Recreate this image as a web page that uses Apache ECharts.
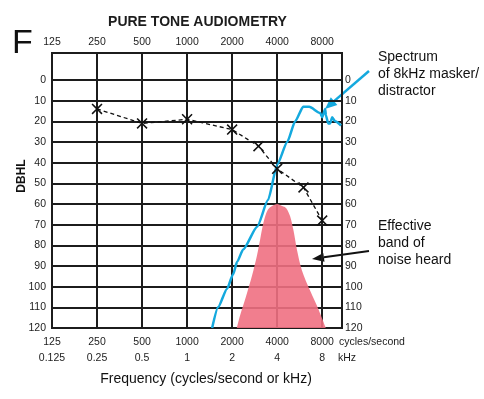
<!DOCTYPE html>
<html>
<head>
    <meta charset="utf-8">
    <title>Pure Tone Audiometry</title>
    <script src="https://cdn.jsdelivr.net/npm/echarts@6/dist/echarts.min.js"></script>
    <style type="text/css">
        body{
            margin: 0;
            background: #fff;
        }
        #main{
            width: 484px;
            height: 399px;
        }
    </style>
</head>
<body>
<div id="main"></div>
<script>
    // audiogram octave ticks (Hz) and kHz labels
    var freqTicks = [125, 250, 500, 1000, 2000, 4000, 8000];
    var khzTicks = ["0.125", "0.25", "0.5", "1", "2", "4", "8"];

    // hearing thresholds (X markers, dashed)
    var threshFreq = [250, 500, 1000, 2000, 3000, 4000, 6000, 8000];
    var threshDb = [14, 21, 19, 24, 32, 43, 52, 68];

    // spectrum of the 8 kHz masker (blue)
    var maskFreq = [1470, 1610, 1850, 2030, 2160, 2370, 2940, 3480, 4000, 4670, 5280, 5970, 6550, 7760, 8000, 8380, 8470, 8770, 9050, 9330, 9770, 10700];
    var maskDb = [120, 110, 101, 94, 88, 82, 71, 58, 41, 30, 20, 13, 13, 16, 18, 14, 17, 21, 21, 18, 20, 22];

    // effective band of noise heard (pink)
    var bandFreq = [2150, 2260, 2470, 2710, 2930, 3080, 3240, 3450, 3700, 4000, 4320, 4600, 4890, 5150, 5420, 5850, 6650, 7560, 8470];
    var bandDb = [120, 114, 105, 95, 85, 77, 69, 63, 61, 60, 61, 62, 66, 73, 82, 92, 102, 111, 120];

    var FONT = "Liberation Sans, Arial, sans-serif";
    var INK = "#1c1c1c";
    var XMAX = 6.44; // octaves above 125 Hz shown in the frame

    function oct(f) {
        return Math.log2(f / 125);
    }
    function pairs(fs, ds) {
        return fs.map(function (f, i) { return [oct(f), ds[i]]; });
    }
    function isTick(v) {
        return Math.abs(v - Math.round(v)) < 1e-6 && v >= 0 && v <= 6;
    }

    function arrow(x1, y1, x2, y2, color, w, len, half) {
        var a = Math.atan2(y2 - y1, x2 - x1);
        var c = Math.cos(a), s = Math.sin(a);
        var bx = x2 - len * c, by = y2 - len * s;
        return [
            {type: 'line', shape: {x1: x1, y1: y1, x2: bx, y2: by}, style: {stroke: color, lineWidth: w}},
            {type: 'polygon', shape: {points: [[x2, y2], [bx + half * s, by - half * c], [bx - half * s, by + half * c]]}, style: {fill: color}}
        ];
    }

    var xSymbol = 'path://M1,0L5,4L9,0L10,1L6,5L10,9L9,10L5,6L1,10L0,9L4,5L0,1Z';

    var myChart = echarts.init(document.getElementById('main'));
    var option = {
        animation: false,
        backgroundColor: '#fff',
        grid: [
            {left: 52, right: 142, top: 53, bottom: 71, show: true, borderColor: INK, borderWidth: 2, backgroundColor: 'transparent'},
            {left: 52, right: 142, top: 80, bottom: 71}
        ],
        xAxis: [
            {
                gridIndex: 0, type: 'value', position: 'top', min: 0, max: XMAX, interval: 1,
                axisLine: {show: false}, axisTick: {show: false},
                splitLine: {show: true, lineStyle: {color: INK, width: 2}},
                axisLabel: {
                    margin: 5, fontSize: 10.5, fontFamily: FONT, color: INK, showMaxLabel: false,
                    formatter: function (v) { return isTick(v) ? String(freqTicks[Math.round(v)]) : ''; }
                }
            },
            {
                gridIndex: 1, type: 'value', position: 'bottom', min: 0, max: XMAX, interval: 1,
                axisLine: {show: false}, axisTick: {show: false}, splitLine: {show: false},
                axisLabel: {
                    margin: 6, fontSize: 10.5, lineHeight: 16, fontFamily: FONT, color: INK, showMaxLabel: false,
                    formatter: function (v) {
                        if (!isTick(v)) return '';
                        var i = Math.round(v);
                        return freqTicks[i] + '\n' + khzTicks[i];
                    }
                }
            }
        ],
        yAxis: [
            {gridIndex: 0, type: 'value', min: 0, max: 1, show: false},
            {
                gridIndex: 1, type: 'value', inverse: true, min: 0, max: 120, interval: 10, position: 'left',
                axisLine: {show: false}, axisTick: {show: false},
                splitLine: {show: true, lineStyle: {color: INK, width: 2}},
                axisLabel: {margin: 6, fontSize: 10.5, fontFamily: FONT, color: INK}
            },
            {
                gridIndex: 1, type: 'value', inverse: true, min: 0, max: 120, interval: 10, position: 'right',
                axisLine: {show: false}, axisTick: {show: false}, splitLine: {show: false},
                axisLabel: {margin: 3, fontSize: 10.5, fontFamily: FONT, color: INK}
            }
        ],
        series: [
            {
                name: 'band', type: 'line', xAxisIndex: 1, yAxisIndex: 1,
                data: pairs(bandFreq, bandDb), smooth: 0.3, symbol: 'none',
                lineStyle: {width: 0}, areaStyle: {origin: 'end', color: 'rgb(239,112,130)', opacity: 0.9}
            },
            {
                name: 'masker', type: 'line', xAxisIndex: 1, yAxisIndex: 1,
                data: pairs(maskFreq, maskDb), smooth: 0.2, smoothMonotone: 'x', symbol: 'none',
                lineStyle: {width: 2.5, color: '#14a9de'}
            },
            {
                name: 'threshold', type: 'line', xAxisIndex: 1, yAxisIndex: 1,
                data: pairs(threshFreq, threshDb), symbol: xSymbol, symbolSize: 11, showSymbol: true,
                itemStyle: {color: '#111'},
                lineStyle: {width: 1.3, color: '#111', type: [4, 3]}
            }
        ],
        graphic: [
            {type: 'text', x: 197.5, y: 22, style: {text: 'PURE TONE AUDIOMETRY', font: 'bold 14px ' + FONT, fill: INK, textAlign: 'center', textVerticalAlign: 'middle'}},
            {type: 'text', x: 12, y: 44, style: {text: 'F', font: '34px ' + FONT, fill: '#111', textAlign: 'left', textVerticalAlign: 'middle'}},
            {type: 'text', x: 22, y: 176, rotation: Math.PI / 2, style: {text: 'DBHL', font: 'bold 12px ' + FONT, fill: '#111', textAlign: 'center', textVerticalAlign: 'middle'}},
            {type: 'text', x: 339, y: 342, style: {text: 'cycles/second', font: '10.5px ' + FONT, fill: INK, textAlign: 'left', textVerticalAlign: 'middle'}},
            {type: 'text', x: 338, y: 358, style: {text: 'kHz', font: '10.5px ' + FONT, fill: INK, textAlign: 'left', textVerticalAlign: 'middle'}},
            {type: 'text', x: 206, y: 379, style: {text: 'Frequency (cycles/second or kHz)', font: '14px ' + FONT, fill: '#111', textAlign: 'center', textVerticalAlign: 'middle'}},
            {type: 'text', x: 378, y: 48.5, style: {text: 'Spectrum\nof 8kHz masker/\ndistractor', font: '14px ' + FONT, lineHeight: 17, fill: '#111', textAlign: 'left', textVerticalAlign: 'top'}},
            {type: 'text', x: 378, y: 217.5, style: {text: 'Effective\nband of\nnoise heard', font: '14px ' + FONT, lineHeight: 17, fill: '#111', textAlign: 'left', textVerticalAlign: 'top'}}
        ].concat(arrow(369, 71, 325, 109, '#14a9de', 2.5, 12, 5))
         .concat(arrow(369, 251, 312, 259, '#111', 2, 12, 4.5))
    };
    myChart.setOption(option);
</script>
</body>
</html>
